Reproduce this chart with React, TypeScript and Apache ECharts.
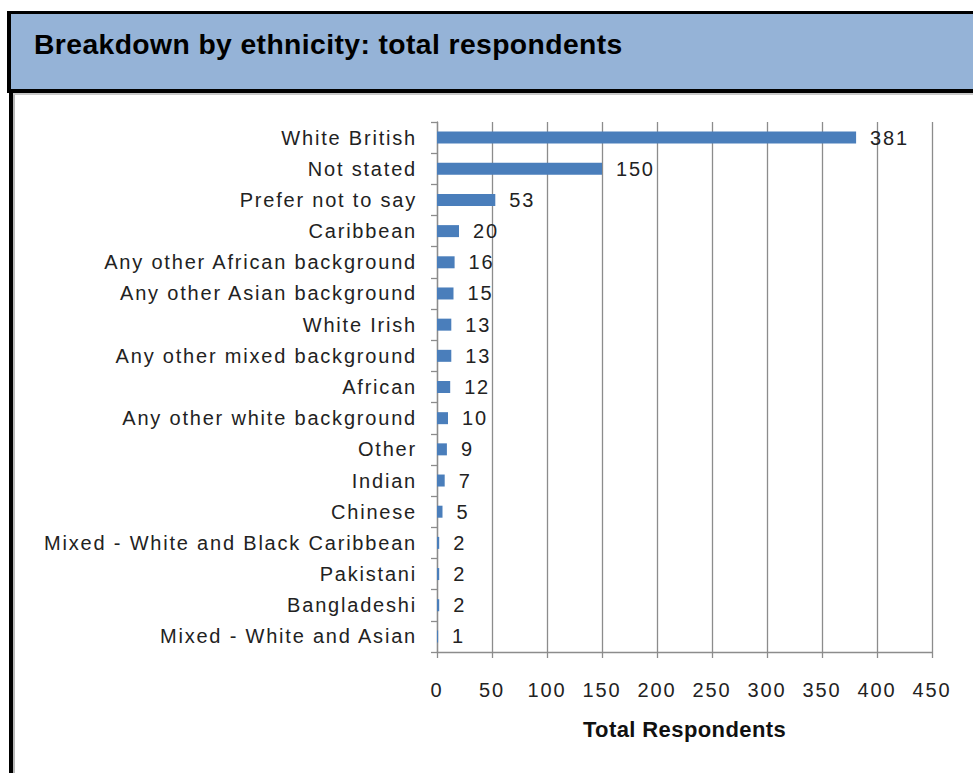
import React, { useEffect, useRef } from "react";
import * as echarts from "echarts";

const categories = [
  "White British",
  "Not stated",
  "Prefer not to say",
  "Caribbean",
  "Any other African background",
  "Any other Asian background",
  "White Irish",
  "Any other mixed background",
  "African",
  "Any other white background",
  "Other",
  "Indian",
  "Chinese",
  "Mixed - White and Black Caribbean",
  "Pakistani",
  "Bangladeshi",
  "Mixed - White and Asian",
];
const values = [381, 150, 53, 20, 16, 15, 13, 13, 12, 10, 9, 7, 5, 2, 2, 2, 1];
const xTicks = { min: 0, max: 450, interval: 50 };
const titleText = "Breakdown by ethnicity: total respondents";
const axisTitle = "Total Respondents";

const css = `
#ethchart text { letter-spacing: 1.8px; }
#ethchart text[style*="bold"], #ethchart text[font-weight="bold"] { letter-spacing: 0.4px; }
`;

export default function App() {
  const ref = useRef<HTMLDivElement>(null);
  useEffect(() => {
    if (!ref.current) return;
    const chart = echarts.init(ref.current, undefined, { renderer: "svg" });
    const font = "'Liberation Sans', Arial, sans-serif";
    chart.setOption({
      animation: false,
      backgroundColor: "#ffffff",
      textStyle: { fontFamily: font },
      graphic: [
        { type: "rect", shape: { x: 7, y: 11, width: 966, height: 82 }, style: { fill: "#000000" }, silent: true },
        { type: "rect", shape: { x: 11, y: 14, width: 962, height: 75 }, style: { fill: "#95b3d7" }, silent: true },
        { type: "rect", shape: { x: 9, y: 93, width: 4, height: 680 }, style: { fill: "#000000" }, silent: true },
        { type: "rect", shape: { x: 13, y: 93, width: 2, height: 680 }, style: { fill: "#b8b8b8" }, silent: true },
        { type: "rect", shape: { x: 13, y: 93, width: 960, height: 2 }, style: { fill: "#c8c8c8" }, silent: true },
        {
          type: "text",
          x: 34,
          y: 44,
          style: {
            text: titleText,
            fontFamily: font,
            fontWeight: "bold",
            fontSize: 28.3,
            fill: "#000000",
            verticalAlign: "middle",
          },
        },
      ],
      grid: { left: 437, right: 41, top: 122, bottom: 121, containLabel: false },
      xAxis: {
        type: "value",
        min: xTicks.min,
        max: xTicks.max,
        interval: xTicks.interval,
        axisLine: { show: true, lineStyle: { color: "#8c8c8c", width: 1.3 } },
        axisTick: { show: true, length: 6, lineStyle: { color: "#8c8c8c", width: 1.3 } },
        splitLine: { show: true, lineStyle: { color: "#8c8c8c", width: 1.3 } },
        axisLabel: { color: "#222222", fontSize: 20, margin: 28, fontFamily: font },
        name: axisTitle,
        nameLocation: "middle",
        nameGap: 66,
        nameTextStyle: { fontWeight: "bold", fontSize: 22, color: "#111111", fontFamily: font, verticalAlign: "top" },
      },
      yAxis: {
        type: "category",
        data: categories,
        inverse: true,
        axisLine: { show: true, lineStyle: { color: "#8c8c8c", width: 1.3 } },
        axisTick: { show: true, length: 6, lineStyle: { color: "#8c8c8c", width: 1.3 } },
        axisLabel: { color: "#222222", fontSize: 20, margin: 20, fontFamily: font, interval: 0 },
        splitLine: { show: false },
      },
      series: [
        {
          type: "bar",
          data: values,
          barWidth: 12,
          itemStyle: { color: "#4a7ebb" },
          label: {
            show: true,
            position: "right",
            distance: 14,
            color: "#222222",
            fontSize: 20,
            fontFamily: font,
          },
        },
      ],
    });
    return () => chart.dispose();
  }, []);
  return (
    <>
      <style>{css}</style>
      <div
        id="ethchart"
        ref={ref}
        style={{ position: "absolute", left: 0, top: 0, width: 973, height: 773 }}
      />
    </>
  );
}
